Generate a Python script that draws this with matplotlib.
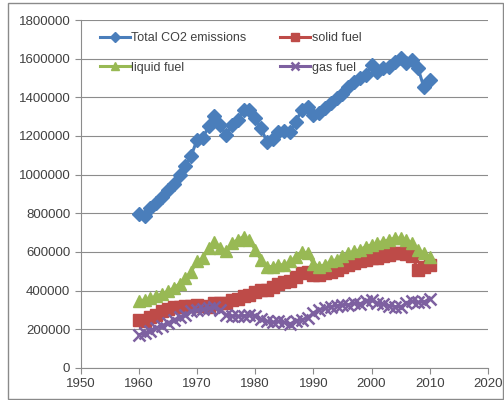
import matplotlib
matplotlib.use("Agg")
import matplotlib.pyplot as plt
from matplotlib.patches import Rectangle

years = list(range(1960, 2011))

total = [797, 784, 827, 856, 887, 921, 952, 1000, 1045, 1097,
         1180, 1190, 1250, 1305, 1257, 1203, 1255, 1283, 1335, 1335,
         1292, 1240, 1171, 1183, 1223, 1228, 1223, 1274, 1335, 1350,
         1309, 1321, 1344, 1369, 1395, 1418, 1455, 1481, 1498, 1516,
         1567, 1533, 1550, 1559, 1585, 1602, 1576, 1593, 1550, 1452, 1490]
total = [v * 1000 for v in total]

solid = [250, 241, 264, 275, 293, 305, 315, 318, 322, 322,
         325, 320, 318, 335, 336, 335, 352, 358, 370, 378,
         395, 401, 405, 420, 436, 445, 450, 470, 490, 495,
         482, 482, 491, 499, 508, 525, 534, 543, 551, 560,
         568, 568, 577, 586, 594, 594, 590, 577, 508, 525, 534]
solid = [v * 1000 for v in solid]

liquid = [344, 353, 362, 370, 384, 396, 413, 436, 465, 499,
          551, 568, 620, 654, 620, 603, 646, 663, 680, 663,
          611, 560, 525, 525, 534, 534, 551, 575, 600, 595,
          540, 525, 534, 551, 560, 577, 594, 603, 611, 628,
          637, 646, 654, 663, 672, 672, 663, 646, 611, 594, 575]
liquid = [v * 1000 for v in liquid]

gas = [172, 181, 193, 207, 219, 232, 246, 264, 275, 293,
       301, 305, 310, 315, 301, 275, 270, 267, 270, 275,
       270, 253, 241, 236, 241, 236, 229, 241, 250, 258,
       285, 301, 310, 318, 322, 327, 327, 336, 332, 344,
       350, 336, 332, 322, 318, 315, 336, 345, 340, 342, 355]
gas = [v * 1000 for v in gas]

x_ticks = list(range(1950, 2021, 10))
y_ticks = list(range(0, 1800001, 200000))

plt.rcParams['font.family'] = ['Liberation Sans', 'DejaVu Sans']

fig = plt.figure(figsize=(5.04, 4.0), dpi=100)
ax = fig.add_axes([0.160, 0.08, 0.808, 0.87])

fig.patches.append(Rectangle((8 / 504, 1 / 400), 495 / 504, 396 / 400,
                             transform=fig.transFigure, fill=False,
                             edgecolor='#8a8a8a', linewidth=1.0))

lw = 2.2
h_total, = ax.plot(years, total, color='#4a7ebb', marker='D', markersize=7, lw=lw,
                   label='Total CO2 emissions', zorder=3)
h_solid, = ax.plot(years, solid, color='#be4b48', marker='s', markersize=8, lw=lw,
                   label='solid fuel', zorder=3)
h_liquid, = ax.plot(years, liquid, color='#98b954', marker='^', markersize=9, lw=lw,
                    label='liquid fuel', zorder=3)
h_gas, = ax.plot(years, gas, color='#7d60a0', marker='x', markersize=8, mew=1.8, lw=lw,
                 label='gas fuel', zorder=3)

ax.set_xlim(1950, 2020)
ax.set_ylim(0, 1800000)
ax.set_xticks(x_ticks)
ax.set_yticks(y_ticks)
ax.set_xticklabels([str(t) for t in x_ticks])
ax.set_yticklabels([str(t) for t in y_ticks])

ax.yaxis.grid(True, color='#8c8c8c', linewidth=0.8)
ax.set_axisbelow(True)
for s in ['top', 'right']:
    ax.spines[s].set_visible(False)
for s in ['left', 'bottom']:
    ax.spines[s].set_color('#8c8c8c')
    ax.spines[s].set_linewidth(0.8)
ax.tick_params(axis='both', colors='#8c8c8c', labelcolor='#404040',
               labelsize=9.5, length=4, width=0.8, direction='out')

leg = ax.legend(handles=[h_total, h_liquid, h_solid, h_gas], ncol=2,
                loc='upper left', bbox_to_anchor=(0.02, 0.997), frameon=False,
                fontsize=9, handlelength=2.4, handletextpad=0.1,
                columnspacing=2.7, labelspacing=1.4, markerscale=0.7)
for t in leg.get_texts():
    t.set_color('#404040')

fig.savefig('out.png', dpi=100)
